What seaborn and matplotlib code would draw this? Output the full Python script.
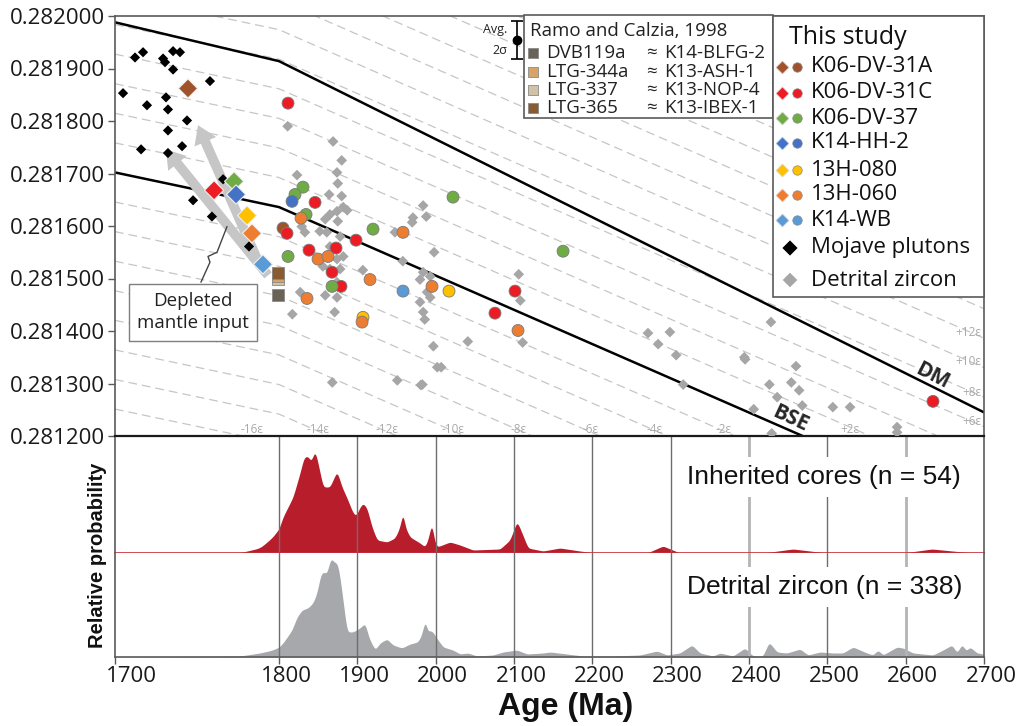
import numpy as np
import pandas as pd
import matplotlib
matplotlib.use("Agg")
import matplotlib.pyplot as plt
import seaborn as sns
from matplotlib.patches import Rectangle
from matplotlib.transforms import ScaledTranslation

# ---------------- data ----------------
dm_age = [1700, 1800, 2700]
dm_hf = [0.281988, 0.281914, 0.281245]
bse_age = [1700, 1800, 2700]
bse_hf = [0.281702, 0.281636, 0.281049]
eps_levels = [e for e in range(-16, 34, 2) if e != 0]

mojave_age = [1704.9, 1712.2, 1717.1, 1729.3, 1730.5, 1735.4, 1739.6, 1735.4, 1757.9, 1731.1, 1719.5,
              1732.3, 1743.9, 1732.3, 1715.9, 1740.9, 1732.3, 1765.9, 1747.6, 1759.1, 1781.7]
mojave_hf = [0.281853, 0.281921, 0.281931, 0.281919, 0.281912, 0.281933, 0.281931, 0.281898, 0.281876,
             0.281845, 0.281830, 0.281822, 0.281801, 0.281782, 0.281746, 0.281752, 0.281739, 0.281689,
             0.281649, 0.281618, 0.281561]

detrital_age = [1811, 1869, 1880, 1874, 1823, 1875, 1864, 1880, 1865, 1874,
                1882, 1887, 1859, 1875, 1829, 1852, 1861, 1878, 1833, 1865,
                1874, 1882, 1856, 1865, 1878, 1907, 1874, 1827, 1859, 1874,
                1817, 1871, 1984, 1971, 1988, 1970, 1948, 1998, 1958, 1984,
                1993, 1980, 1989, 1993, 1980, 1984, 1986, 2106, 2108, 2041,
                1997, 2111, 2002, 2007, 1983, 2271, 2284, 2299, 2307, 2316,
                2394, 2395, 2428, 2426, 2436, 2406, 2429, 2460, 2454, 2464,
                2468, 2507, 2529, 2589, 2589, 1868, 1951, 1981]
detrital_hf = [0.281790, 0.281761, 0.281725, 0.281702, 0.281697, 0.281681, 0.281660, 0.281657, 0.281622, 0.281628,
               0.281636, 0.281630, 0.281613, 0.281609, 0.281599, 0.281590, 0.281588, 0.281580, 0.281588, 0.281561,
               0.281537, 0.281542, 0.281523, 0.281518, 0.281518, 0.281516, 0.281493, 0.281474, 0.281468, 0.281464,
               0.281432, 0.281436, 0.281639, 0.281616, 0.281618, 0.281607, 0.281588, 0.281550, 0.281533, 0.281512,
               0.281504, 0.281498, 0.281474, 0.281464, 0.281455, 0.281436, 0.281422, 0.281508, 0.281458, 0.281380,
               0.281371, 0.281378, 0.281331, 0.281331, 0.281298, 0.281396, 0.281375, 0.281398, 0.281354, 0.281298,
               0.281350, 0.281346, 0.281417, 0.281298, 0.281274, 0.281251, 0.281205, 0.281333, 0.281302, 0.281287,
               0.281258, 0.281255, 0.281255, 0.281217, 0.281207, 0.281302, 0.281306, 0.281297]

samples = ["K06-DV-31A", "K06-DV-31C", "K06-DV-37", "K14-HH-2", "13H-080", "13H-060", "K14-WB"]
sample_colors = ["#a0522d", "#ec1c24", "#6fac46", "#4472c4", "#ffc000", "#ed7d31", "#5b9bd5"]

# individual zircon analyses (circles)
spot_sample = (["K06-DV-31A"] +
               ["K06-DV-31C"] * 11 +
               ["K06-DV-37"] * 8 +
               ["K14-HH-2"] +
               ["13H-080"] * 2 +
               ["13H-060"] * 9 +
               ["K14-WB"])
spot_age = [1805.1,
            1811.5, 1846.0, 1810.2, 1838.3, 1872.8, 1898.3, 1867.7, 1879.1, 2101.3, 2075.7, 2634.9,
            1830.6, 1820.4, 1834.5, 1811.5, 1920.0, 2022.1, 2162.6, 1867.7,
            1816.6,
            2017.0, 1907.2,
            1828.1, 1849.8, 1862.5, 1958.3, 1835.7, 1916.2, 1995.3, 2105.1, 1906.0,
            1958.3]
spot_hf = [0.281596,
           0.281834, 0.281645, 0.281586, 0.281554, 0.281558, 0.281573, 0.281512, 0.281485, 0.281476, 0.281434, 0.281266,
           0.281674, 0.281660, 0.281622, 0.281542, 0.281594, 0.281655, 0.281552, 0.281485,
           0.281647,
           0.281476, 0.281426,
           0.281615, 0.281537, 0.281542, 0.281588, 0.281462, 0.281498, 0.281485, 0.281401, 0.281417,
           0.281476]

# whole-sample values (large diamonds)
mean_age = [1744.5, 1760.4, 1772.6, 1773.8, 1780.5, 1783.5, 1790.2]
mean_hf = [0.281862, 0.281668, 0.281685, 0.281660, 0.281620, 0.281586, 0.281527]

# Ramo and Calzia, 1998
ramo_names = ["DVB119a", "LTG-344a", "LTG-337", "LTG-365"]
ramo_equiv = ["K14-BLFG-2", "K13-ASH-1", "K13-NOP-4", "K13-IBEX-1"]
ramo_colors = ["#6b6257", "#d6a466", "#cfc2a6", "#8a5a30"]
ramo_age = [1799.4, 1799.4, 1799.4, 1799.4]
ramo_hf = [0.281468, 0.281505, 0.281499, 0.281510]
ramo_draw_order = [0, 2, 1, 3]

# arrows (tail age, tail hf, head age, head hf)
arrow_tail_age = [1793.3, 1787.2]
arrow_tail_hf = [0.281506, 0.281533]
arrow_head_age = [1731.1, 1750.6]
arrow_head_hf = [0.281746, 0.281792]

avg2s_age, avg2s_hf, avg2s_err = 2104, 0.281955, 0.000036

# probability curves (age, relative height)
inh_age = [1700, 1776.2, 1788.4, 1796.3, 1805.1, 1817.9, 1826.8, 1831.9, 1837.0, 1840.9, 1846.0, 1849.8,
           1856.2, 1865.1, 1868.9, 1874.0, 1880.4, 1886.8, 1894.5, 1898.3, 1903.4, 1907.2, 1912.3,
           1918.7, 1925.1, 1937.9, 1948.1, 1954.5, 1958.3, 1960.9, 1967.2, 1980.0, 1986.4, 1990.2,
           1995.3, 1997.9, 2001.7, 2018.3, 2031.1, 2047.7, 2082.1, 2094.9, 2103.8, 2110.2, 2117.9,
           2137.0, 2158.7, 2184.3, 2200.9, 2269.8, 2290.2, 2311.9, 2417.9, 2456.2, 2499.6, 2596.6,
           2633.6, 2686.0, 2700]
inh_h = [0, 0.3, 5, 16, 36, 56, 80, 96, 97, 91, 103, 90,
         66, 66, 73, 82, 66, 55, 40, 37, 46, 50, 45,
         26, 13, 11, 15, 26, 43, 26, 16, 10, 6, 13,
         32, 13, 6, 11, 8, 3, 4, 13, 32, 20, 5,
         2, 5, 2, 0.3, 0, 7, 0, 0, 4, 0, 0,
         4, 0, 0]

det_age = [1700, 1776.2, 1788.4, 1796.3, 1805.1, 1816.6, 1823.0, 1829.4, 1837.0, 1843.4, 1848.5, 1853.6,
           1857.4, 1861.3, 1865.1, 1867.7, 1870.2, 1874.0, 1876.6, 1881.7, 1886.8, 1894.5, 1903.4,
           1909.8, 1914.9, 1922.6, 1928.9, 1937.9, 1945.5, 1957.0, 1967.2, 1977.4, 1982.6, 1986.4,
           1990.2, 1992.8, 1996.6, 2000.4, 2009.4, 2022.1, 2031.1, 2041.3, 2052.8, 2073.2, 2086.0,
           2103.8, 2116.6, 2137.0, 2145.9, 2167.7, 2188.1, 2226.4, 2260.9, 2282.6, 2295.3, 2311.9,
           2327.2, 2337.4, 2354.0, 2363.0, 2379.6, 2394.9, 2405.1, 2417.9, 2425.5, 2435.7, 2448.5,
           2465.1, 2475.3, 2490.6, 2507.2, 2520.0, 2532.8, 2550.6, 2558.3, 2564.7, 2571.1, 2588.9,
           2596.6, 2609.4, 2634.9, 2647.7, 2659.2, 2665.6, 2671.9, 2677.0, 2682.2, 2691.1, 2700]
det_h = [0, 1, 4, 7, 14, 27, 40, 47, 49, 54, 64, 84,
         85, 83, 97, 99, 94, 95, 87, 57, 25, 25, 29,
         34, 19, 7, 14, 18, 12, 9, 13, 15, 23, 38,
         24, 27, 25, 20, 10, 7, 3, 4, 1, 2, 5,
         7, 3, 4, 5, 3, 1, 1, 2, 6, 2, 4,
         12, 4, 1, 4, 1, 9, 1, 1, 15, 5, 4,
         8, 2, 5, 4, 4, 10, 4, 2, 7, 2, 10,
         9, 4, 2, 7, 12, 4, 13, 6, 10, 4, 3]

age_ticks = [1700, 1800, 1900, 2000, 2100, 2200, 2300, 2400, 2500, 2600, 2700]
hf_ticks = [0.2812, 0.2813, 0.2814, 0.2815, 0.2816, 0.2817, 0.2818, 0.2819, 0.2820]
grid_ages = [1800, 1900, 2000, 2100, 2200, 2300, 2400, 2500, 2600]

# ---------------- style ----------------
sns.set_theme(style="white")
plt.rcParams["font.family"] = ["Open Sans", "DejaVu Sans"]
plt.rcParams["axes.unicode_minus"] = False

W, H = 1021, 726
fig = plt.figure(figsize=(W / 100, H / 100), dpi=100)


def fbox(l, t, r, b):
    return [l / W, 1 - b / H, (r - l) / W, (b - t) / H]


ax = fig.add_axes(fbox(115, 16, 984, 436))
axm = fig.add_axes(fbox(115, 436, 984, 553))
axb = fig.add_axes(fbox(115, 553, 984, 657))

R = 2.094


def fwd(a):
    a = np.asarray(a, float)
    return np.where(a < 1800, 1800 - (1800 - a) * R, a)


def inv(a):
    a = np.asarray(a, float)
    return np.where(a < 1800, 1800 - (1800 - a) / R, a)


SPINE = "#5a5a5a"

# ---------------- top panel ----------------
bse_arr = np.array(bse_hf)
for e in eps_levels:
    ax.plot(bse_age, bse_arr * (1 + e * 1e-4), color="#c6c6c6", lw=0.9, dashes=(7, 4), zorder=1)
sns.lineplot(x=dm_age, y=dm_hf, color="black", lw=1.8, ax=ax, sort=False, estimator=None, zorder=2)
sns.lineplot(x=bse_age, y=bse_hf, color="black", lw=1.8, ax=ax, sort=False, estimator=None, zorder=2)

sns.scatterplot(x=detrital_age, y=detrital_hf, marker="D", s=30, color="#a6a6a6",
                edgecolor="none", ax=ax, zorder=3)

for ta, th, ha_, hh in zip(arrow_tail_age, arrow_tail_hf, arrow_head_age, arrow_head_hf):
    ax.annotate("", xy=(ha_, hh), xytext=(ta, th),
                arrowprops=dict(arrowstyle="simple,head_length=1.3,head_width=1.7,tail_width=0.7",
                                fc="#c6c6c6", ec="none", mutation_scale=10, shrinkA=0, shrinkB=0),
                zorder=4)

sns.scatterplot(x=mojave_age, y=mojave_hf, marker="D", s=27, color="black",
                edgecolor="none", ax=ax, zorder=5)

spots = pd.DataFrame({"age": spot_age, "hf": spot_hf, "sample": spot_sample})
sns.scatterplot(data=spots, x="age", y="hf", hue="sample", hue_order=samples,
                palette=dict(zip(samples, sample_colors)), marker="o", s=74,
                edgecolor="#7a7a7a", linewidth=0.6, legend=False, ax=ax, zorder=6)

for i in ramo_draw_order:
    sns.scatterplot(x=[ramo_age[i]], y=[ramo_hf[i]], marker="s", s=66, color=ramo_colors[i],
                    edgecolor="#8a8a8a", linewidth=0.6, ax=ax, zorder=6)

means = pd.DataFrame({"age": mean_age, "hf": mean_hf, "sample": samples})
sns.scatterplot(data=means, x="age", y="hf", hue="sample", hue_order=samples,
                palette=dict(zip(samples, sample_colors)), marker="D", s=95,
                edgecolor="#eeeeee", linewidth=0.8, legend=False, ax=ax, zorder=7)

ax.errorbar([avg2s_age], [avg2s_hf], yerr=[avg2s_err], fmt="o", color="black", ms=6,
            capsize=4, lw=1.2, capthick=1.2, zorder=8)

# callout
ax.text(1747.6, 0.281436, "Depleted\nmantle input", ha="center", va="center", fontsize=13.5,
        linespacing=1.3, color="#222222",
        bbox=dict(boxstyle="square,pad=0.45", fc="white", ec="#7f7f7f", lw=1), zorder=9)
ax.plot([1752.4, 1757.9, 1756.7, 1762.2, 1768.3],
        [0.281493, 0.281531, 0.281542, 0.281550, 0.281599], color="#444444", lw=1, zorder=8)

ax.text(2633.6, 0.281314, "DM", fontsize=15, fontweight="bold", rotation=-27,
        ha="center", va="center", rotation_mode="anchor", zorder=8)
ax.text(2452.3, 0.281233, "BSE", fontsize=15, fontweight="bold", rotation=-25,
        ha="center", va="center", rotation_mode="anchor", zorder=8)

eps_col = "#a9a9a9"
bottom_labels = [("-16ε", 1783.5), ("-14ε", 1850), ("-12ε", 1938), ("-10ε", 2022), ("-8ε", 2106),
                 ("-6ε", 2198), ("-4ε", 2279), ("-2ε", 2367), ("+2ε", 2529)]
for txt, a in bottom_labels:
    ax.text(a, 0.281212, txt, fontsize=8.5, color=eps_col, ha="center", va="center", zorder=2)
right_labels = [("+12ε", 0.281397), ("+10ε", 0.281342), ("+8ε", 0.281283), ("+6ε", 0.281227)]
for txt, v in right_labels:
    ax.text(2697, v, txt, fontsize=8.5, color=eps_col, ha="right", va="center", zorder=2)

ax.set_xscale("function", functions=(fwd, inv))
ax.set_xlim(1700, 2700)
ax.set_ylim(0.2812, 0.2820)
ax.set_yticks(hf_ticks)
ax.set_yticklabels([f"{v:.6f}" for v in hf_ticks])
ax.tick_params(axis="y", left=True, length=5, width=1, color=SPINE, labelsize=16, pad=2,
               labelcolor="#1a1a1a")
ax.tick_params(axis="x", bottom=False, labelbottom=False)
ax.set_xlabel("")
ax.set_ylabel("")
for s in ["left", "top", "right"]:
    ax.spines[s].set_color(SPINE)
    ax.spines[s].set_linewidth(1.2)
ax.spines["bottom"].set_color("#1a1a1a")
ax.spines["bottom"].set_linewidth(1.6)
ax.set_zorder(3)

# ---------------- probability panels ----------------
grid = np.linspace(1700, 2700, 4001)
k = np.arange(-40, 41)
kern = np.exp(-0.5 * (k / 7.0) ** 2)
kern /= kern.sum()
inh_s = np.convolve(np.interp(grid, inh_age, inh_h), kern, mode="same")
det_s = np.convolve(np.interp(grid, det_age, det_h), kern, mode="same")

axm.fill_between(grid, 0, inh_s, color="#b81d2c", lw=0, zorder=1)
axm.axhline(0, color="#c3303c", lw=1.2, clip_on=False, zorder=3)
axb.fill_between(grid, 0, det_s, color="#a7a8ac", lw=0, zorder=1)

for a_ in (axm, axb):
    for g in grid_ages:
        if g in (2400, 2600):
            a_.axvline(g, color="#b4b4b4", lw=2.0, zorder=2)
        else:
            a_.axvline(g, color="#6e6e6e", lw=1.0, zorder=2)
    a_.set_xscale("function", functions=(fwd, inv))
    a_.set_xlim(1700, 2700)
    a_.set_yticks([])
    a_.spines["top"].set_visible(False)
    for s in ["left", "right", "bottom"]:
        a_.spines[s].set_color(SPINE)
        a_.spines[s].set_linewidth(1.2)

axm.set_ylim(0, 117)
axm.spines["bottom"].set_visible(False)
axm.tick_params(axis="x", bottom=False, labelbottom=False)

axb.set_ylim(0, 104)
axb.set_xticks(age_ticks)
axb.set_xticklabels([str(t) for t in age_ticks])
axb.tick_params(axis="x", bottom=True, length=5, width=1, color=SPINE, labelsize=16, pad=1.5,
                labelcolor="#1a1a1a")
for lab in axb.get_xticklabels():
    shift = 16 if lab.get_text() == "1700" else 7
    lab.set_transform(lab.get_transform() + ScaledTranslation(shift / 100, 0, fig.dpi_scale_trans))

# ---------------- overlay (legends, labels) ----------------
ov = fig.add_axes([0, 0, 1, 1])
ov.set_xlim(0, W)
ov.set_ylim(H, 0)
ov.axis("off")
ov.set_zorder(10)

ov.text(566, 707, "Age (Ma)", fontsize=23, fontweight="bold", family="Liberation Sans",
        ha="center", va="center", color="#111111")
ov.text(97, 555, "Relative probability", fontsize=14.5, fontweight="bold", family="Liberation Sans",
        rotation=90, ha="center", va="center", color="#111111")
for txt, y in [("Inherited cores (n = 54)", 477), ("Detrital zircon (n = 338)", 587)]:
    ov.text(687, y, txt, fontsize=19, family="Liberation Sans", ha="left", va="center",
            color="#111111", bbox=dict(boxstyle="square,pad=0.3", fc="white", ec="none"))

ov.text(507, 30, "Avg.", fontsize=9, ha="right", va="center", color="#222222")
ov.text(507, 50, "2σ", fontsize=9, ha="right", va="center", color="#222222")

# Ramo and Calzia legend
ov.add_patch(Rectangle((524, 15), 249, 103, fc="white", ec=SPINE, lw=1.2))
ov.text(530, 31, "Ramo and Calzia, 1998", fontsize=13.5, ha="left", va="center", color="#222222")
for i, yy in enumerate([53, 72, 90, 108]):
    ov.scatter([533], [yy], marker="s", s=50, color=ramo_colors[i], edgecolor="#8a8a8a", lw=0.6)
    ov.text(546, yy, ramo_names[i], fontsize=13.5, ha="left", va="center", color="#222222")
    ov.text(651, yy, "≈", fontsize=13.5, ha="center", va="center", color="#222222")
    ov.text(664, yy, ramo_equiv[i], fontsize=13.5, ha="left", va="center", color="#222222")

# This study legend
ov.add_patch(Rectangle((773, 16), 211, 281, fc="white", ec=SPINE, lw=1.2))
ov.text(789, 37, "This study", fontsize=18, ha="left", va="center", color="#111111")
for i, yy in enumerate([67, 93, 118, 143, 170, 195, 220]):
    ov.scatter([782], [yy], marker="D", s=44, color=sample_colors[i], edgecolor="#dddddd", lw=0.5)
    ov.scatter([797], [yy], marker="o", s=46, color=sample_colors[i], edgecolor="#888888", lw=0.5)
    ov.text(811, yy, samples[i], fontsize=16, ha="left", va="center", color="#111111")
ov.scatter([790], [248], marker="D", s=60, color="black", edgecolor="none")
ov.text(811, 248, "Mojave plutons", fontsize=16, ha="left", va="center", color="#111111")
ov.scatter([790], [280], marker="D", s=55, color="#a6a6a6", edgecolor="none")
ov.text(811, 280, "Detrital zircon", fontsize=16, ha="left", va="center", color="#111111")

fig.savefig("out.png", dpi=100)
